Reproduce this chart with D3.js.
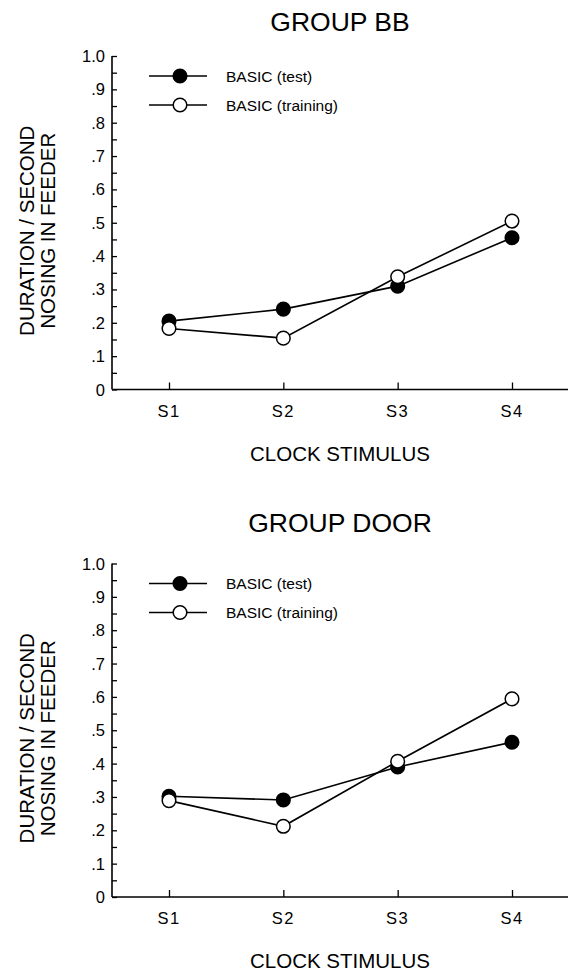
<!DOCTYPE html>
<html>
<head>
<meta charset="utf-8">
<script src="https://cdn.jsdelivr.net/npm/d3@7"></script>
<style>
  html, body { margin: 0; padding: 0; background: #fff; }
  svg { display: block; font-family: "Liberation Sans", Arial, Helvetica, sans-serif; }
</style>
</head>
<body>
<svg id="chart" width="569" height="972"></svg>
<script>
// Clock stimuli on the x axis
const stimuli = ["S1", "S2", "S3", "S4"];
// y-axis tick labels (0 to 1.0)
const yTickValues = [0, 0.1, 0.2, 0.3, 0.4, 0.5, 0.6, 0.7, 0.8, 0.9, 1.0];
const yTickLabels = ["0", ".1", ".2", ".3", ".4", ".5", ".6", ".7", ".8", ".9", "1.0"];

// Group BB: duration / second nosing in feeder
const bbTest     = [0.205, 0.241, 0.31, 0.455];
const bbTraining = [0.183, 0.154, 0.338, 0.505];

// Group DOOR
const doorTest     = [0.302, 0.291, 0.39, 0.464];
const doorTraining = [0.289, 0.212, 0.407, 0.594];

const seriesNames = ["BASIC (test)", "BASIC (training)"];

const panels = [
  { title: "GROUP BB",   test: bbTest,   training: bbTraining,   top: 0 },
  { title: "GROUP DOOR", test: doorTest, training: doorTraining, top: 501 }
];

const svg = d3.select("#chart");

function drawPanel(p) {
  const g = svg.append("g").attr("transform", `translate(0,${p.top})`);
  const axisX = 112, y0 = 389.5, y1 = 56;
  const offY = p.top === 0 ? 0 : 6.5;

  const x = d3.scalePoint().domain(stimuli).range([169, 512]);
  const y = d3.scaleLinear().domain([0, 1]).range([y0 + offY, y1 + offY]);

  // title
  g.append("text").attr("x", 340).attr("y", 31)
    .attr("text-anchor", "middle").attr("font-size", 26.5).text(p.title);

  // y axis: minor ticks every .05, pointing inward
  const yAxis = d3.axisRight(y).tickValues(d3.range(0, 1.0001, 0.05)).tickSize(5).tickFormat("");
  const ya = g.append("g").attr("transform", `translate(${axisX},0)`).call(yAxis);
  ya.selectAll("line").attr("stroke", "#000").attr("stroke-width", 1.3);
  ya.select(".domain").attr("d", `M0,${y(0)}V${y(1)}`).attr("stroke", "#000").attr("stroke-width", 1.6);
  ya.selectAll("text").remove();

  // y tick labels
  g.append("g").selectAll("text").data(yTickValues).join("text")
    .attr("x", axisX - 7).attr("y", d => y(d) + 6)
    .attr("text-anchor", "end").attr("font-size", 16.5)
    .text((d, i) => yTickLabels[i]);

  // x axis: ticks pointing up
  const xAxis = d3.axisTop(x).tickSize(7).tickFormat("");
  const xa = g.append("g").attr("transform", `translate(0,${y(0)})`).call(xAxis);
  xa.selectAll("line").attr("stroke", "#000").attr("stroke-width", 1.3);
  xa.select(".domain").attr("d", `M${axisX},0H568`).attr("stroke", "#000").attr("stroke-width", 1.6);

  // x tick labels
  g.append("g").selectAll("text").data(stimuli).join("text")
    .attr("x", d => x(d)).attr("y", y(0) + 27)
    .attr("text-anchor", "middle").attr("font-size", 16.5)
    .attr("letter-spacing", 1.5)
    .text(d => d);

  // axis titles
  g.append("text").attr("x", 340).attr("y", y(0) + 71)
    .attr("text-anchor", "middle").attr("font-size", 20.5).text("CLOCK STIMULUS");
  const cy = (y(0) + y(1)) / 2 + 8;
  g.append("text").attr("transform", `translate(34,${cy}) rotate(-90)`)
    .attr("text-anchor", "middle").attr("font-size", 20.5).text("DURATION / SECOND");
  g.append("text").attr("transform", `translate(55,${cy}) rotate(-90)`)
    .attr("text-anchor", "middle").attr("font-size", 20.5).text("NOSING IN FEEDER");

  const line = d3.line().x((d, i) => x(stimuli[i])).y(d => y(d));

  // series lines and markers (training drawn over test)
  [{ v: p.test, fill: "#000" }, { v: p.training, fill: "#fff" }].forEach(s => {
    g.append("path").datum(s.v).attr("d", line)
      .attr("fill", "none").attr("stroke", "#000").attr("stroke-width", 1.6);
  });
  [{ v: p.test, fill: "#000" }, { v: p.training, fill: "#fff" }].forEach(s => {
    g.append("g").selectAll("circle").data(s.v).join("circle")
      .attr("cx", (d, i) => x(stimuli[i])).attr("cy", d => y(d)).attr("r", 6.8)
      .attr("fill", s.fill).attr("stroke", "#000").attr("stroke-width", 1.5);
  });

  // legend
  const legY = [y(1) + 20, y(1) + 49];
  const fills = ["#000", "#fff"];
  seriesNames.forEach((name, i) => {
    const lg = g.append("g").attr("transform", `translate(0,${legY[i]})`);
    lg.append("line").attr("x1", 149).attr("x2", 207).attr("y1", 0).attr("y2", 0)
      .attr("stroke", "#000").attr("stroke-width", 1.6);
    lg.append("circle").attr("cx", 180).attr("cy", 0).attr("r", 6.8)
      .attr("fill", fills[i]).attr("stroke", "#000").attr("stroke-width", 1.5);
    lg.append("text").attr("x", 226).attr("y", 5.5).attr("font-size", 15.5).text(name);
  });
}

panels.forEach(drawPanel);
</script>
</body>
</html>
